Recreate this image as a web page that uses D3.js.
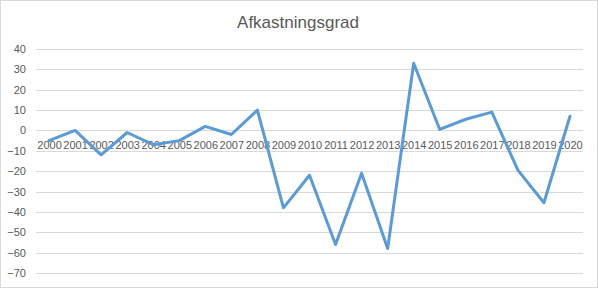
<!DOCTYPE html>
<html>
<head>
<meta charset="utf-8">
<title>Afkastningsgrad</title>
<script src="https://cdn.jsdelivr.net/npm/d3@7"></script>
<style>
    body { margin: 0; background: #fff; }
    text { font-family: "Liberation Sans", Arial, sans-serif; fill: #595959; }
    .axis path, .axis line { display: none; }
</style>
</head>
<body>
<svg id="svg" width="598" height="288"></svg>
<script>
    // data
    var years = ["2000", "2001", "2002", "2003", "2004", "2005", "2006", "2007", "2008", "2009", "2010",
        "2011", "2012", "2013", "2014", "2015", "2016", "2017", "2018", "2019", "2020"];
    var values = [-5, 0, -12, -1, -7, -5, 2, -2, 10, -38, -22, -56, -21, -58, 33, 0.5, 5.5, 9, -19.5, -35.5, 7];
    var yTicks = [40, 30, 20, 10, 0, -10, -20, -30, -40, -50, -60, -70];

    var svg = d3.select("#svg");
    var width = 598, height = 288;

    // chart area border
    svg.append("rect")
        .attr("x", 0.5).attr("y", 0.5)
        .attr("width", width - 1).attr("height", height - 1)
        .attr("fill", "#fff").attr("stroke", "#d9d9d9");

    svg.append("text")
        .attr("x", 298).attr("y", 28)
        .attr("text-anchor", "middle")
        .style("font-size", "17px")
        .text("Afkastningsgrad");

    var plotLeft = 36, plotRight = 583, plotTop = 49, plotBottom = 273;

    var x = d3.scalePoint().domain(years).range([plotLeft, plotRight]).padding(0.5);
    var y = d3.scaleLinear().domain([-70, 40]).range([plotBottom, plotTop]);

    // gridlines
    svg.append("g").selectAll("line")
        .data(yTicks)
        .enter().append("line")
        .attr("x1", plotLeft).attr("x2", plotRight)
        .attr("y1", function (d) { return Math.round(y(d)) + 0.5; })
        .attr("y2", function (d) { return Math.round(y(d)) + 0.5; })
        .attr("stroke", "#d9d9d9").attr("stroke-width", 1);

    // y axis labels
    var yAxis = d3.axisLeft(y).tickValues(yTicks).tickSize(0).tickPadding(0);
    svg.append("g")
        .attr("class", "axis")
        .attr("transform", "translate(26,0)")
        .call(yAxis)
        .selectAll("text")
        .style("font-size", "11px")
        .style("font-family", "Liberation Sans, Arial, sans-serif")
        .style("fill", "#595959");

    // x axis labels sit just under the zero line
    var xAxis = d3.axisBottom(x).tickSize(0).tickPadding(11);
    svg.append("g")
        .attr("class", "axis")
        .attr("transform", "translate(0," + y(0) + ")")
        .call(xAxis)
        .selectAll("text")
        .style("font-size", "11px")
        .style("font-family", "Liberation Sans, Arial, sans-serif")
        .style("fill", "#595959");

    var line = d3.line()
        .x(function (d, i) { return x(years[i]); })
        .y(function (d) { return y(d); });

    svg.append("path")
        .datum(values)
        .attr("d", line)
        .attr("fill", "none")
        .attr("stroke", "#5b9bd5")
        .attr("stroke-width", 3)
        .attr("stroke-linejoin", "round")
        .attr("stroke-linecap", "round");
</script>
</body>
</html>
